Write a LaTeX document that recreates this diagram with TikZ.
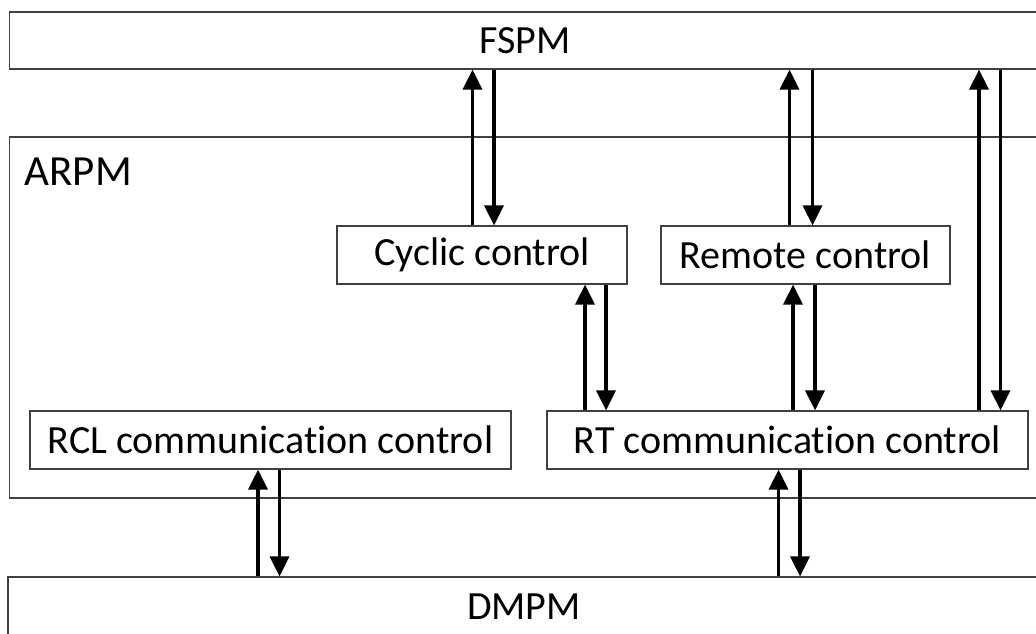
\documentclass[tikz,border=0pt]{standalone}
\usepackage{fontspec}
\setmainfont{Carlito}[Ligatures=NoCommon]
\usetikzlibrary{arrows.meta}
\tikzset{every picture/.style={line width=1.2pt}}

\begin{document}
\begin{tikzpicture}[x=1pt, y=1pt, >={Triangle[length=20pt, width=19pt]},
    font=\fontsize{40}{48}\selectfont,
    box/.style={draw=black!75, rectangle, inner sep=0pt, minimum height=58pt},
    flow/.style={->, line width=3.2pt}]
        \useasboundingbox (0,0) rectangle (1036,633);
        % protocol machines (they run past the right edge)
        \node[box, minimum width=1030.5pt, minimum height=57pt] (fspm) at (524.75,592.5) {FSPM};
        \node[box, minimum width=1030.5pt, minimum height=361pt] (arpm) at (524.75,315.5) {};
        \node[anchor=base west, inner sep=0pt, font=\fontsize{43}{50}\selectfont] (arpmname) at (24,447) {ARPM};
        \node[box, minimum width=1032pt, minimum height=60pt] (dmpm) at (524,26) {DMPM};
        % blocks inside ARPM
        \node[box, minimum width=290pt] (cyc) at (482,378) {Cyclic control};
        \node[box, minimum width=289pt] (rem) at (805.5,378) {Remote control};
        \node[box, minimum width=481pt] (rcl) at (270.5,193) {RCL communication control};
        \node[box, minimum width=481pt] (rt) at (787.5,193) {RT communication control};
        % pairs of arrows: up at \xu, down at \xd
        \foreach \lo/\hi/\xu/\xd in {cyc/fspm/472.5/494, rem/fspm/789.5/812.5, rt/fspm/979/1000.5,
                rt/cyc/585/606, rt/rem/793/815, dmpm/rcl/258/279.5, dmpm/rt/778.5/800} {
            \draw[flow] (\lo.north -| \xu,0) -- (\hi.south -| \xu,0);
            \draw[flow] (\hi.south -| \xd,0) -- (\lo.north -| \xd,0);
        }
    \end{tikzpicture}
\end{document}
